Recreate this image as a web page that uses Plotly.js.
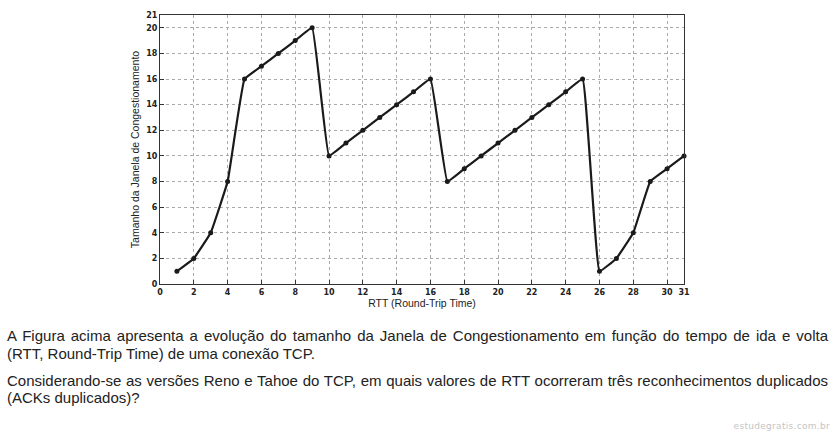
<!DOCTYPE html>
<html><head><meta charset="utf-8">
<script src="https://cdn.plot.ly/plotly-3.0.1.min.js"></script>
<style>
html,body{margin:0;padding:0;background:#fff;}
#wrap{position:relative;width:834px;height:438px;overflow:hidden;background:#fff;}
#chart{position:absolute;left:0;top:0;width:834px;height:310px;}
.txt{position:absolute;left:7px;width:821px;font-family:"Liberation Sans",Arial,sans-serif;font-size:15px;line-height:18px;color:#222;white-space:nowrap;}
.j{text-align:justify;text-align-last:justify;}
#wm{position:absolute;right:4px;top:421px;font-family:"DejaVu Sans",sans-serif;font-size:9px;letter-spacing:0.3px;color:#c4c4c4;white-space:nowrap;}
</style></head>
<body>
<div id="wrap">
<div id="chart"></div>
<div class="txt j" style="top:327px">A Figura acima apresenta a evolução do tamanho da Janela de Congestionamento em função do tempo de ida e volta</div>
<div class="txt" style="top:345px">(RTT, Round-Trip Time) de uma conexão TCP.</div>
<div class="txt j" style="top:372px">Considerando-se as versões Reno e Tahoe do TCP, em quais valores de RTT ocorreram três reconhecimentos duplicados</div>
<div class="txt" style="top:389px">(ACKs duplicados)?</div>
<div id="wm">estudegratis.com.br</div>
</div>
<script>
const rtt = [1,2,3,4,5,6,7,8,9,10,11,12,13,14,15,16,17,18,19,20,21,22,23,24,25,26,27,28,29,30,31];
const cwnd = [1,2,4,8,16,17,18,19,20,10,11,12,13,14,15,16,8,9,10,11,12,13,14,15,16,1,2,4,8,9,10];
const xTicks = [0,2,4,6,8,10,12,14,16,18,20,22,24,26,28,30,31];
const yTicks = [0,2,4,6,8,10,12,14,16,18,20,21];

Plotly.newPlot('chart', [{
  x: rtt, y: cwnd, type: 'scatter', mode: 'lines+markers',
  line: {color: '#1a1a1a', width: 2.2, shape: 'spline', smoothing: 0.25},
  marker: {color: '#1a1a1a', size: 5},
  cliponaxis: false
}], {
  width: 834, height: 310,
  margin: {l: 160, r: 150, t: 15, b: 26},
  paper_bgcolor: '#fff', plot_bgcolor: '#fff',
  showlegend: false,
  font: {family: 'Liberation Sans, Arial, sans-serif', color: '#222'},
  xaxis: {
    range: [0, 31], tickvals: xTicks, ticktext: xTicks.map(String),
    showgrid: true, gridcolor: '#aaa', griddash: 'dot', gridwidth: 1,
    zeroline: false, showline: true, linecolor: '#333', linewidth: 1, mirror: true,
    ticks: 'inside', ticklen: 4, tickcolor: '#333',
    tickfont: {size: 8, family: 'DejaVu Sans, sans-serif', color: '#222', weight: 'bold'},
    title: {text: 'RTT (Round-Trip Time)', font: {size: 10.5, color: '#222'}, standoff: 2}
  },
  yaxis: {
    range: [0, 21], tickvals: yTicks, ticktext: yTicks.map(String),
    showgrid: true, gridcolor: '#aaa', griddash: 'dot', gridwidth: 1,
    zeroline: false, showline: true, linecolor: '#333', linewidth: 1, mirror: true,
    ticks: 'inside', ticklen: 4, tickcolor: '#333',
    tickfont: {size: 8, family: 'DejaVu Sans, sans-serif', color: '#222', weight: 'bold'},
    title: {text: 'Tamanho da Janela de Congestionamento', font: {size: 10.5, color: '#222'}, standoff: 4}
  }
}, {displayModeBar: false, staticPlot: true});
</script>
</body></html>
